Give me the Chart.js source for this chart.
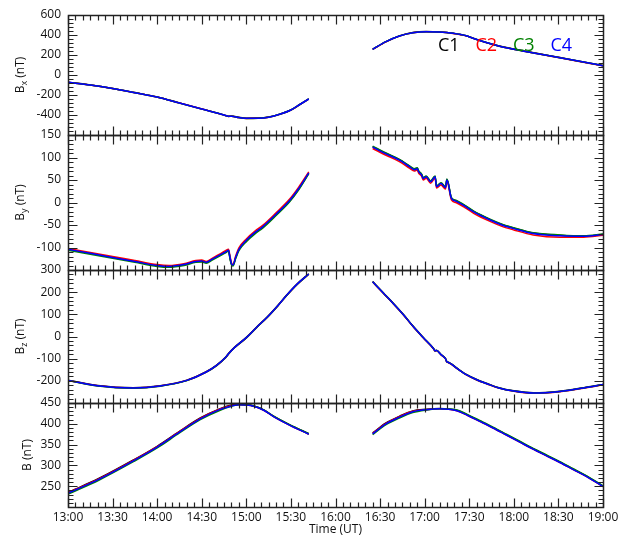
<!DOCTYPE html>
<html>
<head>
<meta charset="utf-8">
<title>Cluster FGM magnetic field</title>
<script src="https://cdn.jsdelivr.net/npm/chart.js@4.4.1/dist/chart.umd.min.js"></script>
<style>
  body { margin: 0; background: #fff; }
  canvas { display: block; }
</style>
</head>
<body>
<canvas id="fgm" width="629" height="537"></canvas>
<script>
// spacecraft and their line colours
const craft = ['C1', 'C2', 'C3', 'C4'];
const craftColors = ['#000000', '#ff0000', '#008000', '#0000ff'];

// time axis labels (UT)
const timeLabels = ['13:00', '13:30', '14:00', '14:30', '15:00', '15:30', '16:00',
  '16:30', '17:00', '17:30', '18:00', '18:30', '19:00'];

// labelled y ticks of each panel
const bxTicks = [-400, -200, 0, 200, 400, 600];
const byTicks = [-100, -50, 0, 50, 100, 150];
const bzTicks = [-200, -100, 0, 100, 200, 300];
const bTicks = [250, 300, 350, 400, 450];

// Bx (nT); null marks the data gap
const bxTimes = ['13:00', '13:15', '13:30', '13:45', '14:00', '14:15', '14:30', '14:45', '14:48', '14:50',
  '14:55', '15:00', '15:08', '15:15', '15:23', '15:30', '15:36', '15:42', '16:00',
  '16:25', '16:34', '16:43', '16:52', '17:01', '17:10', '17:19', '17:28', '17:34', '17:42',
  '17:51', '18:06', '18:18', '18:31', '18:45', '19:00'];
const bxC1 = [-72, -100, -134, -176, -219, -279, -339, -399, -412, -411, -424, -432, -431, -421, -389, -349, -294, -239, null,
  258, 334, 391, 424, 434, 431, 418, 393, 361, 323, 287, 242, 209, 174, 135, 94];
const bxC2 = [-73, -101, -135, -177, -220, -280, -340, -401, -414, -413, -426, -434, -433, -423, -391, -351, -296, -241, null,
  256, 332, 389, 422, 432, 429, 416, 391, 359, 321, 285, 240, 207, 172, 133, 92];
const bxC3 = [-74, -101, -136, -178, -221, -281, -341, -401, -414, -413, -426, -434, -432, -422, -390, -350, -295, -239, null,
  257, 333, 390, 423, 433, 430, 417, 392, 360, 322, 286, 241, 208, 173, 134, 93];
const bxC4 = [-73, -100, -135, -177, -220, -280, -340, -400, -413, -412, -425, -433, -432, -422, -390, -350, -295, -240, null,
  257, 333, 390, 423, 433, 430, 417, 392, 360, 322, 286, 241, 208, 173, 134, 93];

// By (nT)
const byTimes = ['13:00', '13:15', '13:30', '13:45', '14:00', '14:08', '14:18', '14:26', '14:30', '14:33',
  '14:37', '14:42', '14:46', '14:48', '14:49', '14:50', '14:51', '14:53', '14:55', '15:00',
  '15:06', '15:11', '15:20', '15:29', '15:35', '15:42', '16:00',
  '16:25', '16:34', '16:43', '16:50', '16:53', '16:55', '16:56', '16:58', '16:59', '17:01',
  '17:04', '17:07', '17:08', '17:11', '17:14', '17:15', '17:18', '17:21', '17:26', '17:33',
  '17:44', '17:52', '18:00', '18:13', '18:31', '18:47', '19:00'];
const byC1 = [-104, -113, -122, -131, -140, -142, -138, -131, -130, -133, -126, -117, -110, -106, -123, -137, -139, -121, -105, -85,
  -67, -55, -27, 3, 29, 65, null,
  124, 109, 95, 80, 74, 76, 69, 62, 54, 58, 47, 58, 36, 43, 34, 51, 10, 4, -5, -20, -38, -49, -57, -68, -73, -75, -71];
const byC2 = [-102, -111, -120, -129, -138, -140, -136, -129, -128, -131, -124, -115, -107, -104, -119, -134, -138, -117, -101, -81,
  -63, -51, -23, 7, 33, 68, null,
  120, 105, 91, 76, 70, 72, 65, 58, 50, 54, 43, 54, 32, 39, 30, 47, 6, 0, -9, -24, -42, -53, -61, -72, -77, -77, -73];
const byC3 = [-106, -115, -124, -133, -142, -144, -140, -133, -132, -135, -128, -119, -112, -108, -125, -138, -141, -123, -107, -87,
  -69, -57, -29, 1, 27, 64, null,
  125, 110, 96, 81, 75, 77, 70, 63, 55, 59, 48, 59, 37, 44, 35, 52, 11, 5, -4, -19, -37, -48, -56, -67, -72, -74, -70];
const byC4 = [-104, -113, -122, -131, -140, -142, -138, -131, -130, -133, -126, -117, -110, -106, -122, -136, -139, -120, -104, -84,
  -66, -54, -26, 4, 30, 66, null,
  123, 108, 94, 79, 73, 75, 68, 61, 53, 57, 46, 57, 35, 42, 33, 50, 9, 3, -6, -21, -39, -50, -58, -69, -74, -75, -71];

// Bz (nT)
const bzTimes = ['13:00', '13:20', '13:44', '14:02', '14:20', '14:33', '14:40', '14:46', '14:48', '14:52',
  '15:00', '15:07', '15:14', '15:21', '15:27', '15:34', '15:42', '16:00',
  '16:25', '16:32', '16:39', '16:46', '16:52', '16:59', '17:06', '17:07', '17:08', '17:11',
  '17:14', '17:15', '17:16', '17:18', '17:22', '17:28', '17:35', '17:42', '17:50', '18:00',
  '18:13', '18:31', '18:47', '19:00'];
const bzC1 = [-197, -221, -231, -222, -197, -159, -129, -94, -77, -49, -4, 43, 88, 139, 186, 236, 283, null,
  248, 198, 149, 97, 48, -4, -54, -64, -62, -81, -99, -114, -116, -124, -144, -171, -194, -212, -231, -245, -254, -247, -231, -216];
const bzC2 = [-198, -222, -232, -223, -198, -160, -131, -96, -79, -51, -6, 41, 86, 137, 184, 234, 281, null,
  246, 196, 147, 95, 46, -6, -56, -66, -64, -83, -101, -116, -118, -126, -146, -173, -196, -214, -233, -247, -256, -249, -233, -218];
const bzC3 = [-199, -223, -233, -224, -199, -161, -131, -96, -79, -51, -6, 41, 86, 137, 184, 234, 281, null,
  247, 197, 148, 96, 47, -5, -55, -65, -63, -82, -100, -115, -117, -125, -145, -172, -195, -213, -232, -246, -255, -248, -232, -217];
const bzC4 = [-198, -222, -232, -223, -198, -160, -130, -95, -78, -50, -5, 42, 87, 138, 185, 235, 282, null,
  247, 197, 148, 96, 47, -5, -55, -65, -63, -82, -100, -115, -117, -125, -145, -172, -195, -213, -232, -246, -255, -248, -232, -217];

// |B| (nT)
const bTimes = ['13:00', '13:21', '13:44', '14:00', '14:15', '14:29', '14:42', '14:50', '14:55', '15:00',
  '15:05', '15:12', '15:18', '15:29', '15:42', '16:00',
  '16:25', '16:34', '16:43', '16:52', '17:01', '17:10', '17:21', '17:29', '17:37', '17:46',
  '17:55', '18:04', '18:13', '18:22', '18:31', '18:40', '18:49', '19:00'];
const bC1 = [235, 269, 313, 346, 382, 414, 436, 445, 447, 446, 443, 433, 419, 398, 376, null,
  378, 402, 418, 431, 435, 437, 433, 421, 407, 391, 374, 357, 340, 324, 308, 291, 274, 250];
const bC2 = [234, 268, 312, 345, 381, 413, 435, 444, 446, 445, 442, 432, 418, 397, 375, null,
  377, 401, 417, 430, 434, 436, 432, 420, 406, 390, 373, 356, 339, 323, 307, 290, 273, 249];
const bC3 = [231, 265, 309, 342, 378, 410, 432, 442, 446, 446, 443, 433, 419, 398, 376, null,
  374, 398, 414, 427, 433, 436, 434, 422, 408, 392, 375, 358, 341, 325, 309, 292, 275, 251];
const bC4 = [233, 267, 311, 344, 380, 412, 434, 443, 446, 445, 442, 432, 418, 397, 375, null,
  376, 400, 416, 429, 434, 436, 432, 420, 406, 390, 373, 356, 339, 323, 307, 290, 273, 249];

const FONT = "'Open Sans', 'DejaVu Sans', sans-serif";
const INK = '#111';

function toHours(t) {
  const [h, m] = t.split(':').map(Number);
  return h + m / 60;
}

// one stacked panel per field component
const panels = [
  { id: 'bx', sub: 'x', min: -600, max: 600, ticks: bxTicks, minor: 40, weight: 120, titleX: 24,
    times: bxTimes, series: [bxC1, bxC2, bxC3, bxC4] },
  { id: 'by', sub: 'y', min: -150, max: 150, ticks: byTicks, minor: 10, weight: 135, titleX: 24,
    times: byTimes, series: [byC1, byC2, byC3, byC4] },
  { id: 'bz', sub: 'z', min: -300, max: 300, ticks: bzTicks, minor: 20, weight: 133, titleX: 24,
    times: bzTimes, series: [bzC1, bzC2, bzC3, bzC4] },
  { id: 'bt', sub: '', min: 200, max: 450, ticks: bTicks, minor: 10, weight: 104, titleX: 31,
    times: bTimes, series: [bC1, bC2, bC3, bC4] }
];

const datasets = [];
panels.forEach(p => {
  p.series.forEach((vals, k) => {
    datasets.push({
      label: p.id + ' ' + craft[k],
      data: p.times.map((t, j) => ({ x: toHours(t), y: vals[j] })),
      xAxisID: 'x',
      yAxisID: p.id,
      borderColor: craftColors[k],
      borderWidth: 1.5,
      pointRadius: 0,
      cubicInterpolationMode: 'monotone',
      spanGaps: false,
      order: craft.length - k
    });
  });
});

const scales = {
  x: {
    type: 'linear',
    position: 'bottom',
    min: 13,
    max: 19,
    grid: { display: false, drawTicks: false },
    border: { display: false },
    afterBuildTicks: s => { s.ticks = timeLabels.map(t => ({ value: toHours(t) })); },
    afterFit: s => { s.height = 30; },
    ticks: {
      autoSkip: false, maxRotation: 0, padding: 3, color: INK,
      font: { family: FONT, size: 12 },
      callback: (v, i) => timeLabels[i]
    },
    title: { display: true, text: 'Time (UT)', padding: 0, color: INK, font: { family: FONT, size: 12 } }
  }
};
panels.forEach((p, i) => {
  scales[p.id] = {
    type: 'linear',
    position: 'left',
    stack: 'mag',
    stackWeight: p.weight,
    weight: panels.length - i,
    min: p.min,
    max: p.max,
    grid: { display: false, drawTicks: false },
    border: { display: false },
    afterBuildTicks: s => { s.ticks = p.ticks.map(v => ({ value: v })); },
    afterFit: s => { s.width = 68; },
    ticks: { autoSkip: false, padding: 7, color: INK, font: { family: FONT, size: 12 } }
  };
});

// frames with inward tick marks on all four sides of each panel
const panelFrames = {
  id: 'panelFrames',
  afterDraw(chart) {
    const ctx = chart.ctx;
    const xs = chart.scales.x;
    const l = Math.round(xs.left) + 0.5, r = Math.round(xs.right) + 0.5;
    ctx.save();
    ctx.strokeStyle = '#222';
    panels.forEach(p => {
      const ys = chart.scales[p.id];
      const t = Math.round(ys.top) + 0.5, b = Math.round(ys.bottom) + 0.5;
      ctx.lineWidth = 1.2;
      ctx.beginPath();
      for (let m = 0; m <= 360; m += 5) {
        const px = Math.round(xs.getPixelForValue(13 + m / 60)) + 0.5;
        const len = m % 30 === 0 ? 9 : 5;
        ctx.moveTo(px, t); ctx.lineTo(px, t + len);
        ctx.moveTo(px, b); ctx.lineTo(px, b - len);
      }
      for (let v = p.min; v <= p.max + 1e-6; v += p.minor) {
        const py = Math.round(ys.getPixelForValue(v)) + 0.5;
        const len = p.ticks.includes(v) ? 9 : 5;
        ctx.moveTo(l, py); ctx.lineTo(l + len, py);
        ctx.moveTo(r, py); ctx.lineTo(r - len, py);
      }
      ctx.stroke();
      ctx.lineWidth = 1.5;
      ctx.strokeRect(l, t, r - l, b - t);
    });
    ctx.restore();
  }
};

// rotated "B_x (nT)" style titles with a real subscript
const panelTitles = {
  id: 'panelTitles',
  afterDraw(chart) {
    const ctx = chart.ctx;
    ctx.save();
    ctx.fillStyle = INK;
    ctx.textBaseline = 'alphabetic';
    ctx.textAlign = 'left';
    panels.forEach(p => {
      const ys = chart.scales[p.id];
      const big = '12px ' + FONT, small = '9px ' + FONT;
      ctx.font = big;
      const wB = ctx.measureText('B').width;
      const wU = ctx.measureText(' (nT)').width;
      ctx.font = small;
      const wS = p.sub ? ctx.measureText(p.sub).width : 0;
      const total = wB + wS + wU;
      ctx.save();
      ctx.translate(p.titleX, (ys.top + ys.bottom) / 2);
      ctx.rotate(-Math.PI / 2);
      let x = -total / 2;
      ctx.font = big;
      ctx.fillText('B', x, 0);
      x += wB;
      if (p.sub) {
        ctx.font = small;
        ctx.fillText(p.sub, x, 3);
        x += wS;
      }
      ctx.font = big;
      ctx.fillText(' (nT)', x, 0);
      ctx.restore();
    });
    ctx.restore();
  }
};

// spacecraft key in the top panel
const craftKey = {
  id: 'craftKey',
  afterDraw(chart) {
    const ctx = chart.ctx;
    const area = chart.chartArea;
    ctx.save();
    ctx.font = '18px ' + FONT;
    ctx.textBaseline = 'alphabetic';
    ctx.textAlign = 'left';
    craft.forEach((name, k) => {
      ctx.fillStyle = craftColors[k];
      ctx.fillText(name, area.left + 370 + k * 37.5, area.top + 36);
    });
    ctx.restore();
  }
};

new Chart(document.getElementById('fgm'), {
  type: 'line',
  data: { datasets },
  options: {
    responsive: false,
    animation: false,
    layout: { padding: { top: 15, right: 26, left: 0, bottom: 0 } },
    scales,
    plugins: {
      legend: { display: false },
      tooltip: { enabled: false },
      title: { display: false }
    }
  },
  plugins: [panelFrames, panelTitles, craftKey]
});
</script>
</body>
</html>
